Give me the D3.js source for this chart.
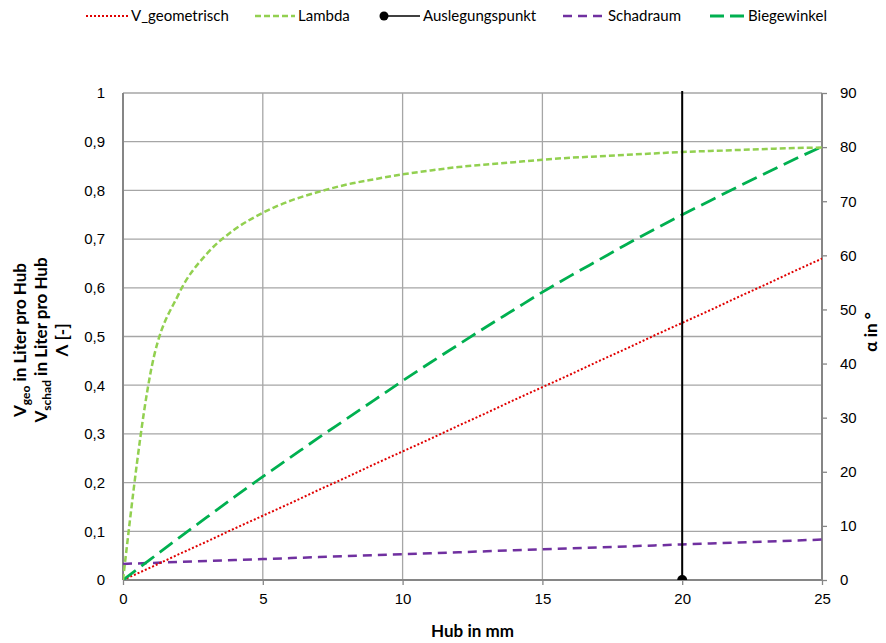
<!DOCTYPE html>
<html>
<head>
<meta charset="utf-8">
<script src="https://cdn.jsdelivr.net/npm/d3@7"></script>
<style>
  body { margin: 0; background: #fff; }
  svg { font-family: Lato, "Noto Sans", sans-serif; }
</style>
</head>
<body>
<div id="chart"></div>
<script>
// Hub in mm
const hub = [0, 1, 2, 3, 4, 5, 6, 7, 8, 9, 10, 11, 12, 13, 14, 15, 16, 17, 18, 19, 20, 21, 22, 23, 24, 25];
// V_geometrisch in Liter pro Hub
const vGeo = [0, 0.026, 0.053, 0.079, 0.106, 0.132, 0.158, 0.185, 0.211, 0.238, 0.264, 0.290, 0.317, 0.343, 0.370, 0.396, 0.422, 0.449, 0.475, 0.502, 0.528, 0.554, 0.581, 0.607, 0.634, 0.660];
// Lambda [-]
const lambda = [0, 0.430, 0.588, 0.670, 0.720, 0.754, 0.779, 0.797, 0.812, 0.823, 0.833, 0.841, 0.848, 0.853, 0.858, 0.863, 0.867, 0.870, 0.873, 0.876, 0.879, 0.881, 0.883, 0.885, 0.887, 0.888];
// Schadraum in Liter pro Hub
const schad = [0.033, 0.035, 0.037, 0.039, 0.041, 0.043, 0.045, 0.047, 0.049, 0.051, 0.053, 0.055, 0.057, 0.059, 0.061, 0.063, 0.065, 0.067, 0.069, 0.071, 0.073, 0.075, 0.077, 0.079, 0.081, 0.083];
// Biegewinkel in Grad
const biege = [0, 3.9, 7.8, 11.6, 15.4, 19.1, 22.7, 26.3, 29.8, 33.3, 36.8, 40.2, 43.5, 46.8, 50.0, 53.2, 56.2, 59.1, 62.0, 64.8, 67.5, 70.1, 72.7, 75.2, 77.7, 80.1];
// Auslegungspunkt
const auslegungX = [20, 20];
const auslegungY = [0, 1];

const xTicks = [0, 5, 10, 15, 20, 25];
const yTicks = [0, 0.1, 0.2, 0.3, 0.4, 0.5, 0.6, 0.7, 0.8, 0.9, 1];
const y2Ticks = [0, 10, 20, 30, 40, 50, 60, 70, 80, 90];

const w = 886, h = 643;
const pLeft = 123, pRight = 822, pTop = 93, pBottom = 580;

const svg = d3.select('#chart').append('svg')
  .attr('width', w)
  .attr('height', h);

const x = d3.scaleLinear().domain([0, 25]).range([pLeft, pRight]);
const y = d3.scaleLinear().domain([0, 1]).range([pBottom, pTop]);
const y2 = d3.scaleLinear().domain([0, 90]).range([pBottom, pTop]);

const gridColor = '#a6a6a6';
const axisColor = '#868686';

// gridlines
svg.append('g')
  .selectAll('line')
  .data(yTicks)
  .enter()
  .append('line')
  .attr('x1', pLeft).attr('x2', pRight)
  .attr('y1', d => y(d)).attr('y2', d => y(d))
  .attr('stroke', gridColor)
  .attr('stroke-width', 1.3);

svg.append('g')
  .selectAll('line')
  .data(xTicks)
  .enter()
  .append('line')
  .attr('x1', d => x(d)).attr('x2', d => x(d))
  .attr('y1', pTop).attr('y2', pBottom)
  .attr('stroke', gridColor)
  .attr('stroke-width', 1.3);

// axes
const xAxis = d3.axisBottom(x).tickValues(xTicks).tickSize(5).tickPadding(8).tickFormat(d3.format('d'));
const yAxis = d3.axisLeft(y).tickValues(yTicks).tickSize(0).tickPadding(18)
  .tickFormat(d => d === 0 || d === 1 ? String(d) : d3.format('.1f')(d).replace('.', ','));
const y2Axis = d3.axisRight(y2).tickValues(y2Ticks).tickSize(5).tickPadding(13).tickFormat(d3.format('d'));

function styleAxis(g) {
  g.select('.domain').remove();
  g.selectAll('.tick line').attr('stroke', axisColor).attr('stroke-width', 1.3);
  g.selectAll('.tick text').attr('fill', '#000').style('font-size', '15px');
}

svg.append('g')
  .attr('transform', `translate(0,${pBottom})`)
  .call(xAxis)
  .call(styleAxis);

svg.append('g')
  .attr('transform', `translate(${pLeft},0)`)
  .call(yAxis)
  .call(styleAxis);

svg.append('g')
  .attr('transform', `translate(${pRight},0)`)
  .call(y2Axis)
  .call(styleAxis);

// axis lines
[[pLeft, pTop, pLeft, pBottom], [pLeft, pBottom, pRight, pBottom], [pRight, pTop, pRight, pBottom]].forEach(l => {
  svg.append('line')
    .attr('x1', l[0]).attr('y1', l[1]).attr('x2', l[2]).attr('y2', l[3])
    .attr('stroke', axisColor)
    .attr('stroke-width', 2);
});

// clip
svg.append('clipPath').attr('id', 'plot')
  .append('rect')
  .attr('x', pLeft).attr('y', pTop - 2)
  .attr('width', pRight - pLeft).attr('height', pBottom - pTop + 2);

const plot = svg.append('g').attr('clip-path', 'url(#plot)');

const series = [
  { name: 'Schadraum', values: schad, scale: y, color: '#7030a0', width: 2.5, dash: '9,6', curve: d3.curveLinear },
  { name: 'V_geometrisch', values: vGeo, scale: y, color: '#e00000', width: 2, dash: '2,2', curve: d3.curveLinear },
  { name: 'Biegewinkel', values: biege, scale: y2, color: '#00b050', width: 2.8, dash: '16,7', curve: d3.curveMonotoneX },
  { name: 'Lambda', values: lambda, scale: y, color: '#92d050', width: 2.5, dash: '6,3', curve: d3.curveMonotoneX }
];

series.forEach(s => {
  const line = d3.line()
    .x((d, i) => x(hub[i]))
    .y(d => s.scale(d))
    .curve(s.curve);
  plot.append('path')
    .datum(s.values)
    .attr('d', line)
    .attr('fill', 'none')
    .attr('stroke', s.color)
    .attr('stroke-width', s.width)
    .attr('stroke-dasharray', s.dash);
});

// Auslegungspunkt
plot.append('line')
  .attr('x1', x(auslegungX[0])).attr('x2', x(auslegungX[1]))
  .attr('y1', y(auslegungY[0])).attr('y2', y(auslegungY[1]) - 3)
  .attr('stroke', '#000')
  .attr('stroke-width', 2);
plot.append('circle')
  .attr('cx', x(auslegungX[0]))
  .attr('cy', y(auslegungY[0]))
  .attr('r', 5)
  .attr('fill', '#000');

// axis titles
svg.append('text')
  .attr('x', (pLeft + pRight) / 2)
  .attr('y', 637)
  .attr('text-anchor', 'middle')
  .style('font-size', '17px')
  .style('font-weight', 'bold')
  .text('Hub in mm');

const yTitle = svg.append('g')
  .attr('transform', 'translate(0,340) rotate(-90)')
  .style('font-size', '17px')
  .style('font-weight', 'bold');

const t1 = yTitle.append('text').attr('x', 0).attr('y', 26).attr('text-anchor', 'middle');
t1.append('tspan').text('V');
t1.append('tspan').attr('dy', 4).style('font-size', '12px').text('geo');
t1.append('tspan').attr('dy', -4).text(' in Liter pro Hub');

const t2 = yTitle.append('text').attr('x', 0).attr('y', 47).attr('text-anchor', 'middle');
t2.append('tspan').text('V');
t2.append('tspan').attr('dy', 4).style('font-size', '12px').text('schad');
t2.append('tspan').attr('dy', -4).text(' in Liter pro Hub');

yTitle.append('text').attr('x', 0).attr('y', 68).attr('text-anchor', 'middle').text('Λ [-]');

svg.append('text')
  .attr('transform', 'translate(877,332) rotate(-90)')
  .attr('text-anchor', 'middle')
  .style('font-size', '17px')
  .style('font-weight', 'bold')
  .text('α in °');

// legend
const legendItems = [
  { name: 'V_geometrisch', x1: 86, x2: 128, color: '#e00000', width: 2, dash: '2,2' },
  { name: 'Lambda', x1: 255, x2: 295, color: '#92d050', width: 2.5, dash: '6,3' },
  { name: 'Auslegungspunkt', x1: 384, x2: 420, color: '#000', width: 1.5, dash: null, marker: true },
  { name: 'Schadraum', x1: 563, x2: 605, color: '#7030a0', width: 2.5, dash: '9,6' },
  { name: 'Biegewinkel', x1: 710, x2: 745, color: '#00b050', width: 2.8, dash: '14,6' }
];

const legend = svg.append('g');
legendItems.forEach(it => {
  legend.append('line')
    .attr('x1', it.x1).attr('x2', it.x2)
    .attr('y1', 16).attr('y2', 16)
    .attr('stroke', it.color)
    .attr('stroke-width', it.width)
    .attr('stroke-dasharray', it.dash);
  if (it.marker) {
    legend.append('circle').attr('cx', it.x1).attr('cy', 16).attr('r', 4.5).attr('fill', '#000');
  }
  legend.append('text')
    .attr('x', it.x2 + 3)
    .attr('y', 16)
    .attr('dy', '0.35em')
    .style('font-size', '15px')
    .text(it.name);
});
</script>
</body>
</html>
